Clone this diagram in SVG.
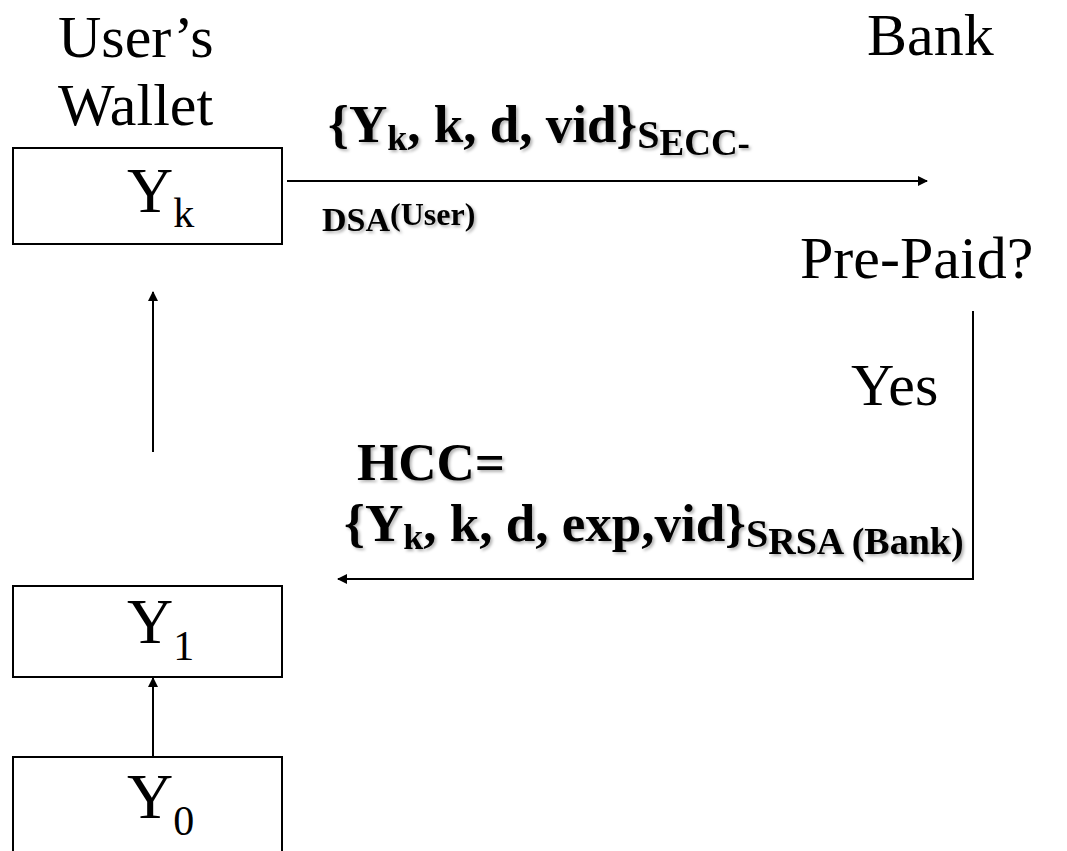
<svg xmlns="http://www.w3.org/2000/svg" width="1067" height="851" viewBox="0 0 1067 851">
<style>
.t{font-family:"Liberation Serif","Times New Roman","DejaVu Serif",serif;font-weight:normal;fill:#000}
.b{font-family:"Liberation Serif","Times New Roman","DejaVu Serif",serif;font-weight:bold;fill:#000}
.box{fill:#fff;stroke:#000;stroke-width:2}
.ln{fill:none;stroke:#000;stroke-width:2}
</style>
<defs>
<marker id="ah" viewBox="0 0 10 10" refX="9" refY="5" markerWidth="5" markerHeight="5" orient="auto" markerUnits="strokeWidth">
<path d="M0,0 L10,5 L0,10 z" fill="#000"/>
</marker>
<filter id="sh" x="-5%" y="-20%" width="110%" height="140%">
<feDropShadow dx="2" dy="2" stdDeviation="1.5" flood-color="#000" flood-opacity="0.3"/>
</filter>
</defs>
<rect width="1067" height="851" fill="#fff"/>
<g id="labels">
<text class="t" x="58" y="57" font-size="60">User’s</text>
<text class="t" x="58" y="125" font-size="60">Wallet</text>
<text class="t" x="867" y="55" font-size="60">Bank</text>
<text class="t" x="800" y="278" font-size="60">Pre-Paid?</text>
<text class="t" x="851" y="405" font-size="60">Yes</text>
</g>
<g id="node-yk">
<rect class="box" x="13" y="148" width="269" height="96"/>
<text class="t" x="127" y="212" font-size="64">Y<tspan font-size="42" dy="15">k</tspan></text>
</g>
<g id="node-y1">
<rect class="box" x="13" y="586" width="269" height="91"/>
<text class="t" x="127" y="643" font-size="64">Y<tspan font-size="42" dy="17">1</tspan></text>
</g>
<g id="node-y0">
<rect class="box" x="13" y="757" width="269" height="100"/>
<text class="t" x="127" y="818" font-size="64">Y<tspan font-size="42" dy="17">0</tspan></text>
</g>
<g id="msg1" filter="url(#sh)">
<text class="b" x="328" y="142" font-size="53">{Y<tspan font-size="36" dy="8">k</tspan><tspan dy="-8">, k, d, vid}</tspan><tspan font-size="40" dy="6">S</tspan><tspan font-size="37" dy="7">ECC-</tspan></text>
<text class="b" x="322" y="231" font-size="34">DSA<tspan font-size="32" dy="-6">(User)</tspan></text>
</g>
<g id="msg2" filter="url(#sh)">
<text class="b" x="357" y="480" font-size="53">HCC=</text>
<text class="b" x="344" y="541" font-size="53">{Y<tspan font-size="36" dy="8">k</tspan><tspan dy="-8">, k, d, exp,vid}</tspan><tspan font-size="40" dy="6">S</tspan><tspan font-size="38" dy="7">RSA (Bank)</tspan></text>
</g>
<g id="connectors">
<line class="ln" x1="287" y1="181" x2="927" y2="181" marker-end="url(#ah)"/>
<polyline class="ln" points="973,311 973,579 338,579" marker-end="url(#ah)"/>
<line class="ln" x1="153" y1="452" x2="153" y2="292" marker-end="url(#ah)"/>
<line class="ln" x1="153" y1="757" x2="153" y2="678" marker-end="url(#ah)"/>
</g>
</svg>
